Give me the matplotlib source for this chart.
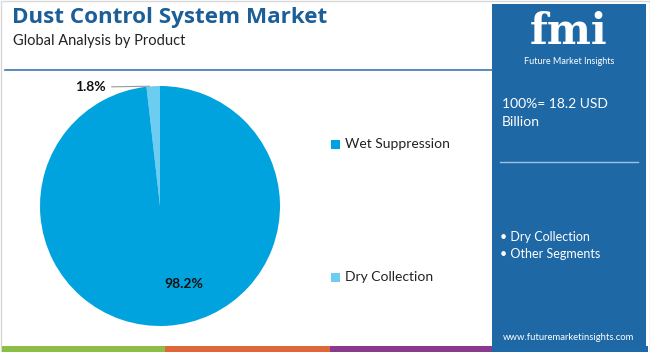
import matplotlib.pyplot as plt
import numpy as np
from matplotlib.patches import Rectangle

plt.rcParams['font.family'] = ['Lato', 'DejaVu Sans']

# data
products = ['Dry Collection', 'Wet Suppression']
shares = [1.8, 98.2]
colors = ['#6dcdf1', '#00a3dd']
legend_order = ['Wet Suppression', 'Dry Collection']
total_text = '100%= 18.2 USD\nBillion'
panel_items = ['Dry Collection', 'Other Segments']

W, H = 650, 352
fig = plt.figure(figsize=(W / 100, H / 100), dpi=100)

# overlay in pixel coords
bg = fig.add_axes([0, 0, 1, 1])
bg.set_xlim(0, W)
bg.set_ylim(H, 0)
bg.axis('off')

bg.add_patch(Rectangle((0.5, 0.5), W - 1, H - 1, fill=False, ec='#d8d8d8', lw=1))
bg.text(12, 18, 'Dust Control System Market', fontsize=16.1, fontweight='bold',
        color='#1b5e98', va='center', ha='left', family=['Open Sans', 'DejaVu Sans'])
bg.text(13, 41, 'Global Analysis by Product', fontsize=10.5, color='#222222',
        va='center', ha='left')
bg.plot([5, 492], [70, 70], color='#3b78b0', lw=1.2)

# bottom strip
for x0, x1, c in [(2, 165, '#8cbd45'), (165, 330, '#e0673a'), (330, 492, '#8a3a8e'), (492, 648, '#1e6aa8')]:
    bg.add_patch(Rectangle((x0, 346), x1 - x0, 6, color=c, lw=0))

# right panel
bg.add_patch(Rectangle((492, 4), 154, 342, color='#1e68a6', lw=0))
bg.text(569, 32, 'fmi', fontsize=30, fontweight='bold', color='white',
        ha='center', va='center', family=['DejaVu Serif'])
bg.text(569, 62, 'Future Market Insights', fontsize=6.5, color='white',
        ha='center', va='center')
bg.text(502, 113, total_text, fontsize=10, color='white', ha='left', va='center',
        linespacing=1.6)
bg.plot([500, 638], [162, 162], color='#9cc3e3', lw=1)
for i, item in enumerate(panel_items):
    bg.text(500, 237 + i * 17, '\u2022 ' + item, fontsize=9, color='white',
            ha='left', va='center')
bg.text(569, 337, 'www.futuremarketinsights.com', fontsize=6.8, color='white',
        ha='center', va='center')

# legend
legend_y = [144, 277]
for name, y in zip(legend_order, legend_y):
    c = colors[products.index(name)]
    bg.add_patch(Rectangle((331, y - 4.5), 9, 9, color=c, lw=0))
    bg.text(345, y, name, fontsize=10, color='#222222', ha='left', va='center')

# pie
ax = fig.add_axes([40 / W, 26 / H, 240 / W, 240 / H])
ax.set_facecolor('none')
wedges, _ = ax.pie(shares, colors=colors, startangle=90, counterclock=True,
                   wedgeprops=dict(lw=0))
ax.set_aspect('equal')
ax.set_xlim(-1, 1)
ax.set_ylim(-1, 1)

ax.text(0.2, -0.65, '%.1f%%' % shares[1], fontsize=10, fontweight='bold',
        color='#111111', ha='center', va='center')
w = wedges[0]
ang = np.deg2rad((w.theta1 + w.theta2) / 2)
ex, ey = np.cos(ang), np.sin(ang)
ax.annotate('%.1f%%' % shares[0], xy=(ex - 0.03, ey), xytext=(-0.45, 0.99),
            fontsize=10, fontweight='bold', color='#111111', ha='right', va='center',
            arrowprops=dict(arrowstyle='-', color='#999999', lw=0.8,
                            shrinkA=2, shrinkB=0),
            annotation_clip=False)

fig.savefig('out.png', dpi=100)
